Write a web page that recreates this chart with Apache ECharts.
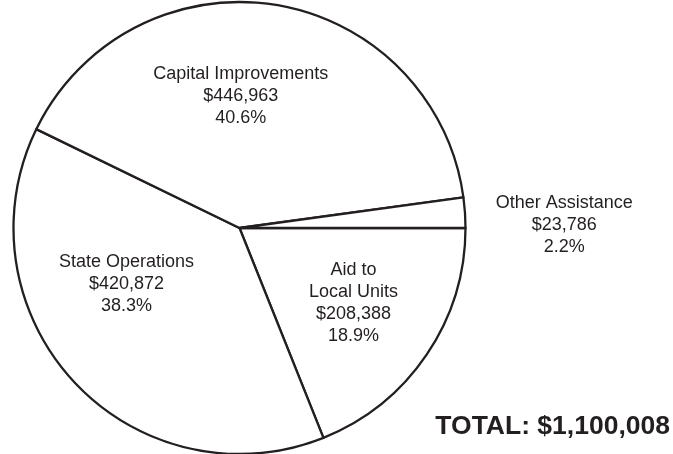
<!DOCTYPE html>
<html>
<head>
<meta charset="utf-8">
<script src="https://cdn.jsdelivr.net/npm/echarts@6/dist/echarts.min.js"></script>
<style>
  html, body { margin: 0; padding: 0; background: #fff; }
  #chart { width: 673px; height: 454px; }
</style>
</head>
<body>
<div id="chart"></div>
<script>
// Data
const categories = ['Aid to\nLocal Units', 'State Operations', 'Capital Improvements', 'Other Assistance'];
const values = [208388, 420872, 446963, 23786];
const totalLabel = 'TOTAL: $1,100,008';

// label nudges relative to the library's default inner label position
const labelShift = [[18, 10], [-28, -23], [-17, -17], [209, 5]];

const ink = '#231f20';
const font = '"Liberation Sans", Arial, Helvetica, sans-serif';

const chart = echarts.init(document.getElementById('chart'), null, { renderer: 'canvas' });
chart.setOption({
  backgroundColor: '#ffffff',
  animation: false,
  title: {
    text: totalLabel,
    right: 3,
    top: 413,
    padding: 0,
    textStyle: { fontFamily: font, fontSize: 26.5, fontWeight: 'bold', color: ink }
  },
  series: [{
    type: 'pie',
    center: [239.5, 228],
    radius: [0, 226],
    startAngle: 0,
    clockwise: true,
    percentPrecision: 1,
    silent: true,
    avoidLabelOverlap: false,
    data: categories.map((c, i) => ({ name: c, value: values[i] })),
    itemStyle: { color: '#ffffff', borderColor: ink, borderWidth: 2.3 },
    label: {
      show: true,
      position: 'inner',
      fontFamily: font,
      fontSize: 18,
      lineHeight: 22,
      color: ink,
      align: 'center',
      formatter: p => p.name + '\n$' + p.value.toLocaleString('en-US') + '\n' + p.percent.toFixed(1) + '%'
    },
    labelLine: { show: false },
    labelLayout: p => ({ dx: labelShift[p.dataIndex][0], dy: labelShift[p.dataIndex][1] }),
    emphasis: { disabled: true }
  }]
});
</script>
</body>
</html>
